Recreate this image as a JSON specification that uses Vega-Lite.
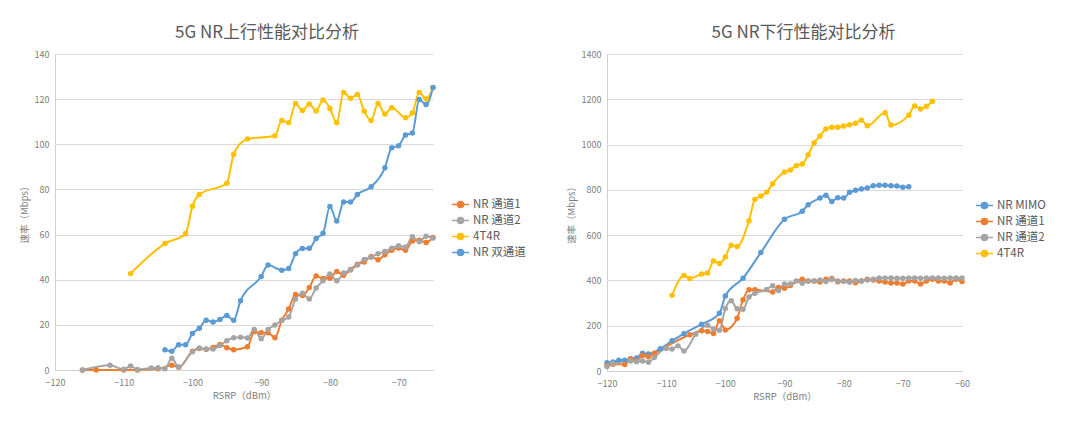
{
  "$schema": "https://vega.github.io/schema/vega-lite/v6.json",
  "background": "white",
  "padding": {"left": 19, "top": 24, "right": 5, "bottom": 5},
  "spacing": 40,
  "config": {
    "font": "Noto Sans CJK SC",
    "view": {"stroke": null},
    "title": {"fontSize": 17, "color": "#595959", "fontWeight": "normal", "offset": 8, "anchor": "middle"},
    "axis": {
      "labelColor": "#808080", "labelFontSize": 9, "titleColor": "#808080", "titleFontSize": 9.5,
      "titleFontWeight": "normal", "gridColor": "#d9d9d9", "domainColor": "#d0d0d0", "tickSize": 0,
      "labelPadding": 6, "titlePadding": 5, "labelFlush": false
    },
    "axisX": {"titlePadding": 3, "labelPadding": 8},
    "legend": {
      "labelFontSize": 11.5, "labelColor": "#595959", "symbolSize": 289,
      "symbolType": "M-1,0L-0.35,0M0.35,0L1,0M-0.35,0A0.35,0.35 0 1,0 0.35,0A0.35,0.35 0 1,0 -0.35,0Z",
      "symbolStrokeWidth": 1.6, "labelOffset": 3, "rowPadding": -1, "title": null
    }
  },
  "datasets": {
    "up": [
      {"x": -116, "y": 0, "s": "NR 通道1"}, {"x": -114, "y": 0, "s": "NR 通道1"}, {"x": -110, "y": 0, "s": "NR 通道1"},
      {"x": -108, "y": 0, "s": "NR 通道1"}, {"x": -105, "y": 0.5, "s": "NR 通道1"}, {"x": -103, "y": 2.1, "s": "NR 通道1"},
      {"x": -102, "y": 1.2, "s": "NR 通道1"}, {"x": -100, "y": 8.3, "s": "NR 通道1"}, {"x": -99, "y": 9.5, "s": "NR 通道1"},
      {"x": -98, "y": 9.2, "s": "NR 通道1"}, {"x": -97, "y": 10.0, "s": "NR 通道1"}, {"x": -96, "y": 11.3, "s": "NR 通道1"},
      {"x": -95, "y": 9.9, "s": "NR 通道1"}, {"x": -94, "y": 9.0, "s": "NR 通道1"}, {"x": -92, "y": 10.3, "s": "NR 通道1"},
      {"x": -91, "y": 17.0, "s": "NR 通道1"}, {"x": -90, "y": 16.5, "s": "NR 通道1"}, {"x": -89, "y": 16.5, "s": "NR 通道1"},
      {"x": -88, "y": 14.3, "s": "NR 通道1"}, {"x": -87, "y": 22.0, "s": "NR 通道1"}, {"x": -86, "y": 27.0, "s": "NR 通道1"},
      {"x": -85, "y": 33.4, "s": "NR 通道1"}, {"x": -84, "y": 33.0, "s": "NR 通道1"}, {"x": -83, "y": 36.5, "s": "NR 通道1"},
      {"x": -82, "y": 41.6, "s": "NR 通道1"}, {"x": -81, "y": 40.5, "s": "NR 通道1"}, {"x": -80, "y": 40.6, "s": "NR 通道1"},
      {"x": -79, "y": 43.6, "s": "NR 通道1"}, {"x": -78, "y": 42.0, "s": "NR 通道1"}, {"x": -77, "y": 44.5, "s": "NR 通道1"},
      {"x": -76, "y": 46.9, "s": "NR 通道1"}, {"x": -75, "y": 47.8, "s": "NR 通道1"}, {"x": -74, "y": 50.3, "s": "NR 通道1"},
      {"x": -73, "y": 48.8, "s": "NR 通道1"}, {"x": -72, "y": 51.1, "s": "NR 通道1"}, {"x": -71, "y": 53.0, "s": "NR 通道1"},
      {"x": -70, "y": 54.0, "s": "NR 通道1"}, {"x": -69, "y": 53.0, "s": "NR 通道1"}, {"x": -68, "y": 57.1, "s": "NR 通道1"},
      {"x": -67, "y": 57.5, "s": "NR 通道1"}, {"x": -66, "y": 56.5, "s": "NR 通道1"}, {"x": -65, "y": 58.7, "s": "NR 通道1"},

      {"x": -116, "y": 0, "s": "NR 通道2"}, {"x": -112, "y": 2.1, "s": "NR 通道2"}, {"x": -110, "y": 0.3, "s": "NR 通道2"},
      {"x": -109, "y": 1.8, "s": "NR 通道2"}, {"x": -108, "y": 0.2, "s": "NR 通道2"}, {"x": -106, "y": 0.9, "s": "NR 通道2"},
      {"x": -105, "y": 1.0, "s": "NR 通道2"}, {"x": -104, "y": 0.6, "s": "NR 通道2"}, {"x": -103, "y": 5.2, "s": "NR 通道2"},
      {"x": -102, "y": 1.3, "s": "NR 通道2"}, {"x": -100, "y": 8.1, "s": "NR 通道2"}, {"x": -99, "y": 9.8, "s": "NR 通道2"},
      {"x": -98, "y": 9.3, "s": "NR 通道2"}, {"x": -97, "y": 9.3, "s": "NR 通道2"}, {"x": -96, "y": 10.8, "s": "NR 通道2"},
      {"x": -95, "y": 13.0, "s": "NR 通道2"}, {"x": -94, "y": 14.3, "s": "NR 通道2"}, {"x": -93, "y": 14.5, "s": "NR 通道2"},
      {"x": -92, "y": 14.2, "s": "NR 通道2"}, {"x": -91, "y": 18.0, "s": "NR 通道2"}, {"x": -90, "y": 13.9, "s": "NR 通道2"},
      {"x": -89, "y": 17.9, "s": "NR 通道2"}, {"x": -88, "y": 19.9, "s": "NR 通道2"}, {"x": -87, "y": 22.0, "s": "NR 通道2"},
      {"x": -86, "y": 23.5, "s": "NR 通道2"}, {"x": -85, "y": 31.5, "s": "NR 通道2"}, {"x": -84, "y": 34.0, "s": "NR 通道2"},
      {"x": -83, "y": 31.5, "s": "NR 通道2"}, {"x": -82, "y": 36.3, "s": "NR 通道2"}, {"x": -81, "y": 39.5, "s": "NR 通道2"},
      {"x": -80, "y": 42.5, "s": "NR 通道2"}, {"x": -79, "y": 39.5, "s": "NR 通道2"}, {"x": -78, "y": 43.0, "s": "NR 通道2"},
      {"x": -77, "y": 44.3, "s": "NR 通道2"}, {"x": -76, "y": 46.5, "s": "NR 通道2"}, {"x": -75, "y": 49.0, "s": "NR 通道2"},
      {"x": -74, "y": 50.0, "s": "NR 通道2"}, {"x": -73, "y": 51.5, "s": "NR 通道2"}, {"x": -72, "y": 52.5, "s": "NR 通道2"},
      {"x": -71, "y": 54.0, "s": "NR 通道2"}, {"x": -70, "y": 55.0, "s": "NR 通道2"}, {"x": -69, "y": 54.5, "s": "NR 通道2"},
      {"x": -68, "y": 59.0, "s": "NR 通道2"}, {"x": -67, "y": 56.8, "s": "NR 通道2"}, {"x": -66, "y": 59.3, "s": "NR 通道2"},
      {"x": -65, "y": 58.5, "s": "NR 通道2"},

      {"x": -109, "y": 42.7, "s": "4T4R"}, {"x": -104, "y": 56.0, "s": "4T4R"}, {"x": -101, "y": 60.4, "s": "4T4R"},
      {"x": -100, "y": 72.5, "s": "4T4R"}, {"x": -99, "y": 77.8, "s": "4T4R"}, {"x": -95, "y": 82.7, "s": "4T4R"},
      {"x": -94, "y": 95.6, "s": "4T4R"}, {"x": -92, "y": 102.3, "s": "4T4R"}, {"x": -88, "y": 103.8, "s": "4T4R"},
      {"x": -87, "y": 110.5, "s": "4T4R"}, {"x": -86, "y": 109.6, "s": "4T4R"}, {"x": -85, "y": 118.1, "s": "4T4R"},
      {"x": -84, "y": 115.0, "s": "4T4R"}, {"x": -83, "y": 117.9, "s": "4T4R"}, {"x": -82, "y": 114.8, "s": "4T4R"},
      {"x": -81, "y": 119.6, "s": "4T4R"}, {"x": -80, "y": 115.9, "s": "4T4R"}, {"x": -79, "y": 109.7, "s": "4T4R"},
      {"x": -78, "y": 123.0, "s": "4T4R"}, {"x": -77, "y": 120.4, "s": "4T4R"}, {"x": -76, "y": 122.1, "s": "4T4R"},
      {"x": -75, "y": 114.6, "s": "4T4R"}, {"x": -74, "y": 110.5, "s": "4T4R"}, {"x": -73, "y": 118.1, "s": "4T4R"},
      {"x": -72, "y": 113.4, "s": "4T4R"}, {"x": -71, "y": 116.2, "s": "4T4R"}, {"x": -69, "y": 111.8, "s": "4T4R"},
      {"x": -68, "y": 113.9, "s": "4T4R"}, {"x": -67, "y": 123.0, "s": "4T4R"}, {"x": -66, "y": 120.1, "s": "4T4R"},
      {"x": -65, "y": 125.0, "s": "4T4R"},

      {"x": -104, "y": 9.0, "s": "NR 双通道"}, {"x": -103, "y": 8.3, "s": "NR 双通道"}, {"x": -102, "y": 11.2, "s": "NR 双通道"},
      {"x": -101, "y": 11.2, "s": "NR 双通道"}, {"x": -100, "y": 16.2, "s": "NR 双通道"}, {"x": -99, "y": 18.5, "s": "NR 双通道"},
      {"x": -98, "y": 22.0, "s": "NR 双通道"}, {"x": -97, "y": 21.3, "s": "NR 双通道"}, {"x": -96, "y": 22.4, "s": "NR 双通道"},
      {"x": -95, "y": 24.1, "s": "NR 双通道"}, {"x": -94, "y": 22.0, "s": "NR 双通道"}, {"x": -93, "y": 30.7, "s": "NR 双通道"},
      {"x": -90, "y": 41.4, "s": "NR 双通道"}, {"x": -89, "y": 46.5, "s": "NR 双通道"}, {"x": -87, "y": 44.2, "s": "NR 双通道"},
      {"x": -86, "y": 45.0, "s": "NR 双通道"}, {"x": -85, "y": 51.5, "s": "NR 双通道"}, {"x": -84, "y": 53.8, "s": "NR 双通道"},
      {"x": -83, "y": 53.9, "s": "NR 双通道"}, {"x": -82, "y": 58.3, "s": "NR 双通道"}, {"x": -81, "y": 60.6, "s": "NR 双通道"},
      {"x": -80, "y": 72.4, "s": "NR 双通道"}, {"x": -79, "y": 66.0, "s": "NR 双通道"}, {"x": -78, "y": 74.4, "s": "NR 双通道"},
      {"x": -77, "y": 74.4, "s": "NR 双通道"}, {"x": -76, "y": 77.8, "s": "NR 双通道"}, {"x": -74, "y": 81.2, "s": "NR 双通道"},
      {"x": -72, "y": 89.6, "s": "NR 双通道"}, {"x": -71, "y": 98.5, "s": "NR 双通道"}, {"x": -70, "y": 99.4, "s": "NR 双通道"},
      {"x": -69, "y": 104.1, "s": "NR 双通道"}, {"x": -68, "y": 105.0, "s": "NR 双通道"}, {"x": -67, "y": 119.8, "s": "NR 双通道"},
      {"x": -66, "y": 117.6, "s": "NR 双通道"}, {"x": -65, "y": 125.2, "s": "NR 双通道"}
    ],
    "down": [
      {"x": -120, "y": 37, "s": "NR MIMO"}, {"x": -119, "y": 40, "s": "NR MIMO"}, {"x": -118, "y": 47, "s": "NR MIMO"},
      {"x": -117, "y": 47, "s": "NR MIMO"}, {"x": -116, "y": 54, "s": "NR MIMO"}, {"x": -115, "y": 58, "s": "NR MIMO"},
      {"x": -114, "y": 78, "s": "NR MIMO"}, {"x": -113, "y": 75, "s": "NR MIMO"}, {"x": -111, "y": 98, "s": "NR MIMO"},
      {"x": -109, "y": 134, "s": "NR MIMO"}, {"x": -107, "y": 165, "s": "NR MIMO"}, {"x": -104, "y": 207, "s": "NR MIMO"},
      {"x": -101, "y": 255, "s": "NR MIMO"}, {"x": -100, "y": 331, "s": "NR MIMO"}, {"x": -97, "y": 410, "s": "NR MIMO"},
      {"x": -94, "y": 523, "s": "NR MIMO"}, {"x": -90, "y": 670, "s": "NR MIMO"}, {"x": -87, "y": 706, "s": "NR MIMO"},
      {"x": -86, "y": 734, "s": "NR MIMO"}, {"x": -84, "y": 764, "s": "NR MIMO"}, {"x": -83, "y": 776, "s": "NR MIMO"},
      {"x": -82, "y": 749, "s": "NR MIMO"}, {"x": -81, "y": 765, "s": "NR MIMO"}, {"x": -80, "y": 764, "s": "NR MIMO"},
      {"x": -79, "y": 789, "s": "NR MIMO"}, {"x": -78, "y": 798, "s": "NR MIMO"}, {"x": -77, "y": 804, "s": "NR MIMO"},
      {"x": -76, "y": 808, "s": "NR MIMO"}, {"x": -75, "y": 818, "s": "NR MIMO"}, {"x": -74, "y": 820, "s": "NR MIMO"},
      {"x": -73, "y": 820, "s": "NR MIMO"}, {"x": -72, "y": 818, "s": "NR MIMO"}, {"x": -71, "y": 817, "s": "NR MIMO"},
      {"x": -70, "y": 812, "s": "NR MIMO"}, {"x": -69, "y": 814, "s": "NR MIMO"},

      {"x": -120, "y": 24, "s": "NR 通道1"}, {"x": -119, "y": 30, "s": "NR 通道1"}, {"x": -117, "y": 29, "s": "NR 通道1"},
      {"x": -116, "y": 54, "s": "NR 通道1"}, {"x": -115, "y": 44, "s": "NR 通道1"}, {"x": -114, "y": 69, "s": "NR 通道1"},
      {"x": -113, "y": 63, "s": "NR 通道1"}, {"x": -112, "y": 78, "s": "NR 通道1"}, {"x": -106, "y": 160, "s": "NR 通道1"},
      {"x": -104, "y": 178, "s": "NR 通道1"}, {"x": -103, "y": 175, "s": "NR 通道1"}, {"x": -102, "y": 166, "s": "NR 通道1"},
      {"x": -101, "y": 222, "s": "NR 通道1"}, {"x": -100, "y": 181, "s": "NR 通道1"}, {"x": -98, "y": 233, "s": "NR 通道1"},
      {"x": -97, "y": 315, "s": "NR 通道1"}, {"x": -96, "y": 359, "s": "NR 通道1"}, {"x": -95, "y": 359, "s": "NR 通道1"},
      {"x": -92, "y": 349, "s": "NR 通道1"}, {"x": -91, "y": 369, "s": "NR 通道1"}, {"x": -90, "y": 365, "s": "NR 通道1"},
      {"x": -89, "y": 378, "s": "NR 通道1"}, {"x": -87, "y": 405, "s": "NR 通道1"}, {"x": -86, "y": 397, "s": "NR 通道1"},
      {"x": -85, "y": 397, "s": "NR 通道1"}, {"x": -84, "y": 393, "s": "NR 通道1"}, {"x": -83, "y": 405, "s": "NR 通道1"},
      {"x": -82, "y": 409, "s": "NR 通道1"}, {"x": -81, "y": 394, "s": "NR 通道1"}, {"x": -80, "y": 397, "s": "NR 通道1"},
      {"x": -79, "y": 397, "s": "NR 通道1"}, {"x": -78, "y": 390, "s": "NR 通道1"}, {"x": -77, "y": 397, "s": "NR 通道1"},
      {"x": -76, "y": 405, "s": "NR 通道1"}, {"x": -75, "y": 402, "s": "NR 通道1"}, {"x": -74, "y": 397, "s": "NR 通道1"},
      {"x": -73, "y": 393, "s": "NR 通道1"}, {"x": -72, "y": 389, "s": "NR 通道1"}, {"x": -71, "y": 389, "s": "NR 通道1"},
      {"x": -70, "y": 384, "s": "NR 通道1"}, {"x": -69, "y": 397, "s": "NR 通道1"}, {"x": -68, "y": 397, "s": "NR 通道1"},
      {"x": -67, "y": 384, "s": "NR 通道1"}, {"x": -66, "y": 397, "s": "NR 通道1"}, {"x": -65, "y": 405, "s": "NR 通道1"},
      {"x": -64, "y": 397, "s": "NR 通道1"}, {"x": -63, "y": 397, "s": "NR 通道1"}, {"x": -62, "y": 389, "s": "NR 通道1"},
      {"x": -61, "y": 405, "s": "NR 通道1"}, {"x": -60, "y": 395, "s": "NR 通道1"},

      {"x": -120, "y": 20, "s": "NR 通道2"}, {"x": -119, "y": 33, "s": "NR 通道2"}, {"x": -116, "y": 44, "s": "NR 通道2"},
      {"x": -115, "y": 41, "s": "NR 通道2"}, {"x": -114, "y": 44, "s": "NR 通道2"}, {"x": -113, "y": 39, "s": "NR 通道2"},
      {"x": -112, "y": 60, "s": "NR 通道2"}, {"x": -110, "y": 99, "s": "NR 通道2"}, {"x": -109, "y": 97, "s": "NR 通道2"},
      {"x": -108, "y": 111, "s": "NR 通道2"}, {"x": -107, "y": 88, "s": "NR 通道2"}, {"x": -105, "y": 162, "s": "NR 通道2"},
      {"x": -103, "y": 202, "s": "NR 通道2"}, {"x": -102, "y": 185, "s": "NR 通道2"}, {"x": -101, "y": 180, "s": "NR 通道2"},
      {"x": -100, "y": 276, "s": "NR 通道2"}, {"x": -99, "y": 310, "s": "NR 通道2"}, {"x": -98, "y": 275, "s": "NR 通道2"},
      {"x": -97, "y": 273, "s": "NR 通道2"}, {"x": -96, "y": 327, "s": "NR 通道2"}, {"x": -95, "y": 343, "s": "NR 通道2"},
      {"x": -93, "y": 360, "s": "NR 通道2"}, {"x": -92, "y": 377, "s": "NR 通道2"}, {"x": -91, "y": 355, "s": "NR 通道2"},
      {"x": -90, "y": 384, "s": "NR 通道2"}, {"x": -89, "y": 384, "s": "NR 通道2"}, {"x": -88, "y": 398, "s": "NR 通道2"},
      {"x": -87, "y": 387, "s": "NR 通道2"}, {"x": -86, "y": 397, "s": "NR 通道2"}, {"x": -85, "y": 397, "s": "NR 通道2"},
      {"x": -84, "y": 402, "s": "NR 通道2"}, {"x": -83, "y": 395, "s": "NR 通道2"}, {"x": -82, "y": 404, "s": "NR 通道2"},
      {"x": -81, "y": 397, "s": "NR 通道2"}, {"x": -80, "y": 395, "s": "NR 通道2"}, {"x": -79, "y": 392, "s": "NR 通道2"},
      {"x": -78, "y": 400, "s": "NR 通道2"}, {"x": -77, "y": 398, "s": "NR 通道2"}, {"x": -76, "y": 402, "s": "NR 通道2"},
      {"x": -75, "y": 405, "s": "NR 通道2"}, {"x": -74, "y": 411, "s": "NR 通道2"}, {"x": -73, "y": 411, "s": "NR 通道2"},
      {"x": -72, "y": 411, "s": "NR 通道2"}, {"x": -71, "y": 410, "s": "NR 通道2"}, {"x": -70, "y": 410, "s": "NR 通道2"},
      {"x": -69, "y": 411, "s": "NR 通道2"}, {"x": -68, "y": 411, "s": "NR 通道2"}, {"x": -67, "y": 410, "s": "NR 通道2"},
      {"x": -66, "y": 411, "s": "NR 通道2"}, {"x": -65, "y": 411, "s": "NR 通道2"}, {"x": -64, "y": 411, "s": "NR 通道2"},
      {"x": -63, "y": 410, "s": "NR 通道2"}, {"x": -62, "y": 411, "s": "NR 通道2"}, {"x": -61, "y": 411, "s": "NR 通道2"},
      {"x": -60, "y": 411, "s": "NR 通道2"},

      {"x": -109, "y": 334, "s": "4T4R"}, {"x": -107, "y": 422, "s": "4T4R"}, {"x": -106, "y": 409, "s": "4T4R"},
      {"x": -104, "y": 428, "s": "4T4R"}, {"x": -103, "y": 433, "s": "4T4R"}, {"x": -102, "y": 486, "s": "4T4R"},
      {"x": -101, "y": 475, "s": "4T4R"}, {"x": -100, "y": 503, "s": "4T4R"}, {"x": -99, "y": 555, "s": "4T4R"},
      {"x": -98, "y": 550, "s": "4T4R"}, {"x": -96, "y": 664, "s": "4T4R"}, {"x": -95, "y": 758, "s": "4T4R"},
      {"x": -94, "y": 773, "s": "4T4R"}, {"x": -93, "y": 790, "s": "4T4R"}, {"x": -92, "y": 827, "s": "4T4R"},
      {"x": -90, "y": 879, "s": "4T4R"}, {"x": -89, "y": 888, "s": "4T4R"}, {"x": -88, "y": 907, "s": "4T4R"},
      {"x": -87, "y": 914, "s": "4T4R"}, {"x": -86, "y": 955, "s": "4T4R"}, {"x": -85, "y": 1007, "s": "4T4R"},
      {"x": -84, "y": 1038, "s": "4T4R"}, {"x": -83, "y": 1069, "s": "4T4R"}, {"x": -82, "y": 1076, "s": "4T4R"},
      {"x": -81, "y": 1076, "s": "4T4R"}, {"x": -80, "y": 1082, "s": "4T4R"}, {"x": -79, "y": 1088, "s": "4T4R"},
      {"x": -78, "y": 1094, "s": "4T4R"}, {"x": -77, "y": 1108, "s": "4T4R"}, {"x": -76, "y": 1083, "s": "4T4R"},
      {"x": -73, "y": 1141, "s": "4T4R"}, {"x": -72, "y": 1086, "s": "4T4R"}, {"x": -69, "y": 1130, "s": "4T4R"},
      {"x": -68, "y": 1170, "s": "4T4R"}, {"x": -67, "y": 1157, "s": "4T4R"}, {"x": -66, "y": 1169, "s": "4T4R"},
      {"x": -65, "y": 1191, "s": "4T4R"}
    ]
  },
  "hconcat": [
    {
      "width": 378, "height": 316,
      "title": {"text": "5G NR上行性能对比分析", "dx": 23},
      "data": {"name": "up"},
      "encoding": {
        "x": {"field": "x", "type": "quantitative", "scale": {"domain": [-120, -65], "nice": false, "zero": false},
              "axis": {"values": [-120, -110, -100, -90, -80, -70], "title": "RSRP（dBm）", "grid": false}},
        "y": {"field": "y", "type": "quantitative", "scale": {"domain": [0, 140], "nice": false},
              "axis": {"values": [0, 20, 40, 60, 80, 100, 120, 140], "format": "d", "title": "速率（Mbps）"}},
        "color": {"field": "s", "type": "nominal",
                  "scale": {"domain": ["NR 通道1", "NR 通道2", "4T4R", "NR 双通道"], "range": ["#ED7D31", "#A5A5A5", "#FFC000", "#5B9BD5"]},
                  "legend": {"orient": "none", "legendX": 396, "legendY": 141}}
      },
      "layer": [
        {"mark": {"type": "line", "interpolate": "monotone", "strokeWidth": 2}},
        {"mark": {"type": "point", "filled": true, "size": 30, "opacity": 1}}
      ]
    },
    {
      "width": 355, "height": 317,
      "title": {"text": "5G NR下行性能对比分析", "dx": 19},
      "data": {"name": "down"},
      "encoding": {
        "x": {"field": "x", "type": "quantitative", "scale": {"domain": [-120, -60], "nice": false, "zero": false},
              "axis": {"values": [-120, -110, -100, -90, -80, -70, -60], "title": "RSRP（dBm）", "grid": false}},
        "y": {"field": "y", "type": "quantitative", "scale": {"domain": [0, 1400], "nice": false},
              "axis": {"values": [0, 200, 400, 600, 800, 1000, 1200, 1400], "format": "d", "title": "速率（Mbps）"}},
        "color": {"field": "s", "type": "nominal",
                  "scale": {"domain": ["NR MIMO", "NR 通道1", "NR 通道2", "4T4R"], "range": ["#5B9BD5", "#ED7D31", "#A5A5A5", "#FFC000"]},
                  "legend": {"orient": "none", "legendX": 368, "legendY": 142}}
      },
      "layer": [
        {"mark": {"type": "line", "interpolate": "monotone", "strokeWidth": 2}},
        {"mark": {"type": "point", "filled": true, "size": 30, "opacity": 1}}
      ]
    }
  ],
  "resolve": {"scale": {"color": "independent"}, "legend": {"color": "independent"}}
}
